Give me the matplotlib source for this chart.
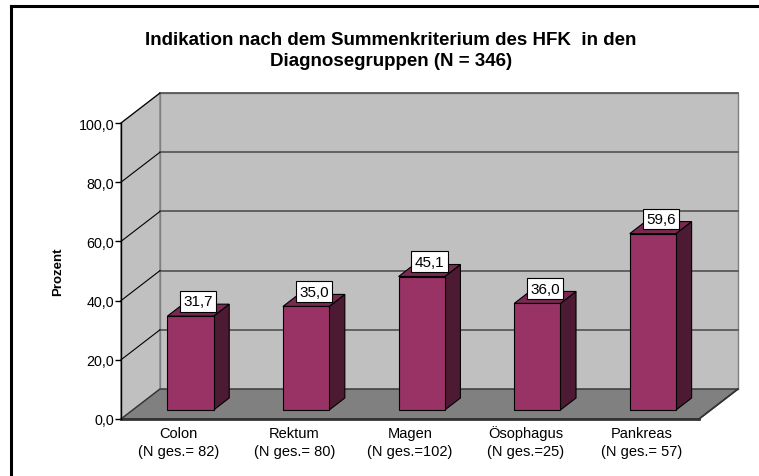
import matplotlib
matplotlib.use("Agg")
import matplotlib.pyplot as plt
from matplotlib.patches import Polygon
from matplotlib.lines import Line2D

plt.rcParams['font.family'] = ['Liberation Sans', 'DejaVu Sans']

# data
categories = ["Colon", "Rektum", "Magen", "Ösophagus", "Pankreas"]
n_totals = ["(N ges.= 82)", "(N ges.= 80)", "(N ges.=102)", "(N ges.=25)", "(N ges.= 57)"]
values = [31.7, 35.0, 45.1, 36.0, 59.6]
yticks = [0, 20, 40, 60, 80, 100]

title = "Indikation nach dem Summenkriterium des HFK  in den\nDiagnosegruppen (N = 346)"

W, H = 759, 477
fig = plt.figure(figsize=(W / 100, H / 100), dpi=100)
# front plane of the 3d box
x0, x1, yb, yt = 121, 699, 420, 124
ax = fig.add_axes([x0 / W, (H - yb) / H, (x1 - x0) / W, (yb - yt) / H])
nc = len(categories)
ax.set_xlim(-0.5, nc - 0.5)
ax.set_ylim(0, 100)
ax.patch.set_visible(False)

# depth of the box, pixels -> data units
ddx = 39 * nc / (x1 - x0)
ddy = 30 * 100 / (yb - yt)
xl, xr = -0.5, nc - 0.5

wall = "#c0c0c0"
floor = "#808080"
edge = "#808080"

# walls and floor
ax.add_patch(Polygon([(xl + ddx, ddy), (xr + ddx, ddy), (xr + ddx, 100 + ddy), (xl + ddx, 100 + ddy)],
                     closed=True, fc=wall, ec=edge, lw=1.0, clip_on=False, zorder=1))
ax.add_patch(Polygon([(xl, 0), (xl + ddx, ddy), (xl + ddx, 100 + ddy), (xl, 100)],
                     closed=True, fc=wall, ec=edge, lw=1.0, clip_on=False, zorder=1))
ax.add_patch(Polygon([(xl, 0), (xr, 0), (xr + ddx, ddy), (xl + ddx, ddy)],
                     closed=True, fc=floor, ec="#333333", lw=1.0, clip_on=False, zorder=2))
ax.plot([xl, xr], [0, 0], color="#333333", lw=2.0, clip_on=False, zorder=3)
ax.plot([xr, xr + ddx], [0, ddy], color="#333333", lw=1.2, clip_on=False, zorder=3)

# gridlines
for t in yticks[1:]:
    ax.plot([xl + ddx, xr + ddx], [t + ddy, t + ddy], color="#5a5a5a", lw=1.3, clip_on=False, zorder=1.5)
    ax.plot([xl, xl + ddx], [t, t + ddy], color="#000000", lw=0.8, clip_on=False, zorder=1.5)

# bars
f0, f1, hw = 0.3, 0.7, 0.2
front_c, top_c, side_c = "#993366", "#7a2952", "#4d1a33"
for i, v in enumerate(values):
    xa, xb = i - hw + f0 * ddx, i + hw + f0 * ddx
    y0 = f0 * ddy
    bx, by = (f1 - f0) * ddx, (f1 - f0) * ddy
    ax.add_patch(Polygon([(xb, y0), (xb + bx, y0 + by), (xb + bx, y0 + by + v), (xb, y0 + v)],
                         closed=True, fc=side_c, ec="black", lw=0.8, clip_on=False, zorder=4))
    ax.add_patch(Polygon([(xa, y0 + v), (xb, y0 + v), (xb + bx, y0 + by + v), (xa + bx, y0 + by + v)],
                         closed=True, fc=top_c, ec="black", lw=0.8, clip_on=False, zorder=4))
    ax.add_patch(Polygon([(xa, y0), (xb, y0), (xb, y0 + v), (xa, y0 + v)],
                         closed=True, fc=front_c, ec="black", lw=0.8, clip_on=False, zorder=5))
    ax.text(i + 0.5 * ddx, y0 + v + 2.6, f"{v:.1f}".replace(".", ","), ha="center", va="bottom",
            fontsize=11, zorder=6,
            bbox=dict(boxstyle="square,pad=0.22", fc="white", ec="black", lw=0.8))

# axes
for s in ["top", "right", "bottom"]:
    ax.spines[s].set_visible(False)
ax.spines["left"].set_color("black")
ax.spines["left"].set_linewidth(1.0)
ax.spines["left"].set_zorder(3)
ax.set_yticks(yticks)
ax.set_yticklabels([f"{t:.1f}".replace(".", ",") for t in yticks], fontsize=10.3)
ax.tick_params(axis="y", length=4, width=1.0, pad=1)
ax.set_xticks([])
ax.set_ylabel("Prozent", fontsize=9.5, fontweight="bold", labelpad=10)

# category labels, two lines each on fixed baselines
for i, (c, n) in enumerate(zip(categories, n_totals)):
    ax.annotate(c, xy=(i, 0), xycoords=("data", "axes fraction"), xytext=(0, -18 * 0.72),
                textcoords="offset points", ha="center", va="baseline", fontsize=10.5)
    ax.annotate(n, xy=(i, 0), xycoords=("data", "axes fraction"), xytext=(0, -36 * 0.72),
                textcoords="offset points", ha="center", va="baseline", fontsize=10.5)

fig.text(391 / W, 1 - 51 / H, title, ha="center", va="center", fontsize=13.5,
         fontweight="bold", linespacing=1.3)

# outer frame
fig.add_artist(Line2D([10.5 / W, 10.5 / W], [0, 1 - 6.5 / H], transform=fig.transFigure, color="black", lw=2.2))
fig.add_artist(Line2D([10.5 / W, 1], [1 - 6.5 / H, 1 - 6.5 / H], transform=fig.transFigure, color="black", lw=2.2))

fig.savefig("out.png", dpi=100)
